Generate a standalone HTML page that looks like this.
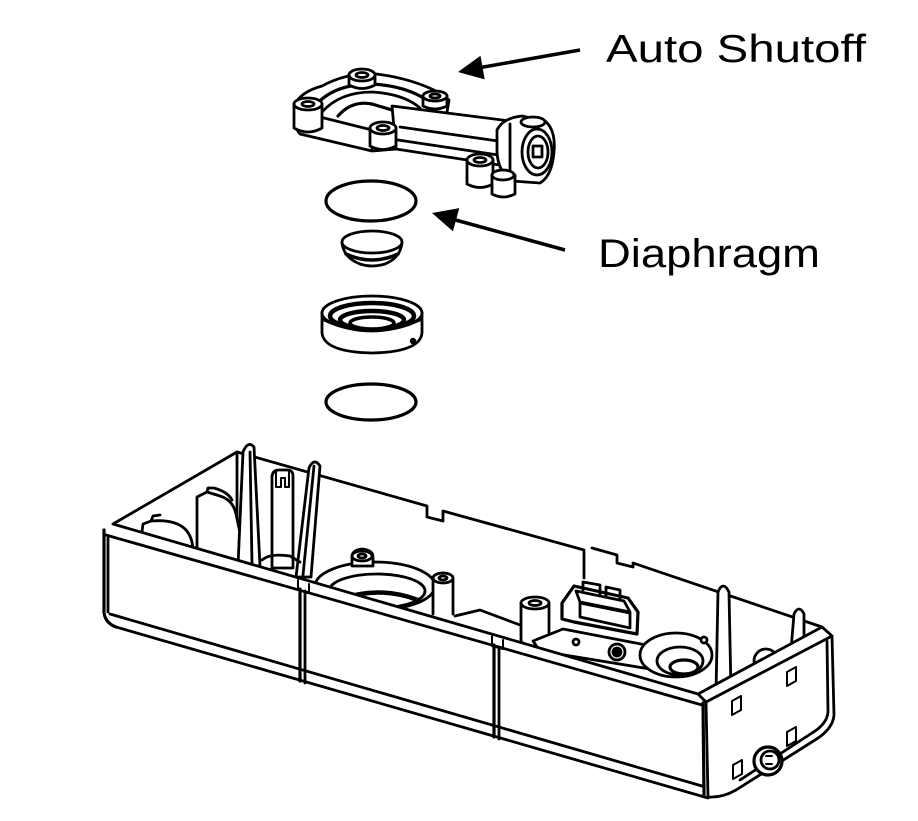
<!DOCTYPE html>
<html><head><meta charset="utf-8"><style>
html,body{margin:0;padding:0;background:#fff;}
svg{display:block;}
</style></head><body>
<svg width="918" height="821" viewBox="0 0 918 821" xmlns="http://www.w3.org/2000/svg">
<rect width="918" height="821" fill="#fff"/>

<!-- Labels -->
<text x="606" y="62" font-family="Liberation Sans, sans-serif" font-size="39" textLength="260" lengthAdjust="spacingAndGlyphs" fill="#000">Auto Shutoff</text>
<text x="598" y="267" font-family="Liberation Sans, sans-serif" font-size="40" textLength="222" lengthAdjust="spacingAndGlyphs" fill="#000">Diaphragm</text>

<!-- Arrows -->
<line x1="580" y1="50" x2="478" y2="68" stroke="#000" stroke-width="3.5"/>
<polygon points="458,72 480.5,55.8 484.7,79.4" fill="#000"/>
<line x1="565" y1="250" x2="452" y2="219" stroke="#000" stroke-width="3.5"/>
<polygon points="432,213 459.3,208.1 452.9,231.3" fill="#000"/>

<g fill="#fff" stroke="#000" stroke-width="2.8" stroke-linejoin="round" stroke-linecap="round">

<!-- ===== Auto Shutoff body ===== -->
<path d="M294,106 Q300,92 322,86 Q348,72 376,74 Q410,78 438,92 L449,100 L446,118 L402,128 L397,149 L372,151 L300,134 Q294,128 294,106 Z"/>
<path d="M300,112 L372,130 L372,150" fill="none"/>
<path d="M312,110 Q330,84 372,84 Q410,86 432,104" fill="none" stroke-width="3.2"/>
<path d="M322,112 Q340,92 372,92 Q404,94 420,108" fill="none"/>
<path d="M338,116 Q352,100 372,104 L392,110" fill="none" stroke-width="3.2"/>
<path d="M392,106 L510,121 L506,166 L396,149 Z"/>
<path d="M400,127 L505,142" fill="none"/>
<path d="M398,140 L505,156" fill="none"/>
<path d="M294,104 L294,128 Q308,136 322,128 L322,104"/>
<ellipse cx="308" cy="104" rx="14" ry="6"/>
<ellipse cx="308" cy="104" rx="6" ry="2.5"/>
<path d="M349,75 L349,85 Q362,92 375,85 L375,75"/>
<ellipse cx="362" cy="75" rx="13" ry="6"/>
<ellipse cx="362" cy="75" rx="6" ry="2.5"/>
<path d="M423,96 L423,106 Q435,112 447,106 L447,96"/>
<ellipse cx="435" cy="96" rx="12" ry="5"/>
<ellipse cx="435" cy="96" rx="5" ry="2"/>
<path d="M370,128 L370,146 Q383,153 396,146 L396,128"/>
<ellipse cx="383" cy="128" rx="13" ry="6"/>
<ellipse cx="383" cy="128" rx="6" ry="2.5"/>
<path d="M497,130 Q503,118 522,116 L545,121 Q556,130 554,152 Q552,176 540,183 L512,181 Q498,172 497,152 Z"/>
<path d="M510,124 L510,178" fill="none"/>
<ellipse cx="537" cy="152" rx="15" ry="23"/>
<ellipse cx="538" cy="152" rx="10" ry="16"/>
<rect x="533" y="146" width="9" height="11"/>
<ellipse cx="533" cy="122" rx="12" ry="5"/>
<path d="M467,160 L467,184 Q480,191 493,184 L493,160"/>
<ellipse cx="480" cy="160" rx="13" ry="6"/>
<ellipse cx="480" cy="160" rx="6" ry="2.5"/>
<path d="M492,175 L492,194 Q503,200 515,194 L515,175"/>
<ellipse cx="503" cy="175" rx="11" ry="5"/>

<!-- ===== Rings ===== -->
<ellipse cx="371" cy="201" rx="45" ry="20" fill="none" stroke-width="3.2"/>
<path d="M342,243 Q344,258 360,264 Q372,268 385,264 Q400,258 402,243"/>
<path d="M346,254 Q372,266 398,254" fill="none" stroke-width="3.5"/>
<ellipse cx="372" cy="242" rx="30" ry="11"/>
<path d="M322,313 L322,333 Q324,352 372,353 Q420,352 422,333 L422,313" />
<ellipse cx="372" cy="313" rx="50" ry="17"/>
<ellipse cx="372" cy="316" rx="42" ry="13" fill="none" stroke-width="4.5"/>
<ellipse cx="372" cy="320" rx="32" ry="9" fill="#fff" stroke-width="4.5"/>
<ellipse cx="372" cy="323" rx="22" ry="6" fill="#fff" stroke-width="3.5"/>
<path d="M324,320 Q372,342 420,320" fill="none"/>
<circle cx="413" cy="341" r="1.8" fill="#000"/>
<ellipse cx="371" cy="402" rx="45" ry="18" fill="none" stroke-width="3.2"/>

<!-- ===== Tray ===== -->
<path d="M113,524 L237,452 L427,506 L427,517 L443,521 L443,511 L584,550 L584,578" fill="none"/>
<path d="M592,548 L617,555 L617,563 L633,567 L633,563 L822,627 L832,636" fill="none"/>
<line x1="237" y1="452" x2="237" y2="560"/>

<path d="M140,547 L143,524 L151,521 Q176,519 186,530 Q193,538 193,552" />
<path d="M151,521 L153,516 L160,515" fill="none"/>
<path d="M197,550 L197,497 L207,492 L220,496 Q233,500 236,514 L247,566" />
<path d="M207,492 L208,488 L214,488 Q228,492 232,500" fill="none"/>
<path d="M238,566 L243,452 Q248,440 254,447 L260,566 Z"/>
<line x1="250" y1="452" x2="252" y2="564"/>
<path d="M272,568 L272,476 Q273,470 279,470 L287,470 Q293,470 293,476 L293,568 Z"/>
<path d="M276,471 L276,487 L281,487 L281,478 L285,478 L285,487 L289,487 L289,471" fill="none" stroke-width="2"/>
<path d="M296,577 L309,468 Q314,457 320,466 L311,577 Z"/>
<line x1="303" y1="575" x2="314" y2="466"/>
<path d="M262,560 Q270,553 290,556 L300,562" fill="none"/>

<ellipse cx="375" cy="586" rx="60" ry="24"/>
<ellipse cx="377" cy="591" rx="48" ry="17"/>
<path d="M338,600 Q378,585 418,600" fill="none" stroke-width="4.5"/>
<path d="M352,557 Q352,550 362,549 Q373,550 373,557 L373,566 L352,566 Z"/>
<ellipse cx="362" cy="556" rx="10" ry="5"/>
<ellipse cx="362" cy="556" rx="4" ry="2"/>
<path d="M433,614 L433,578 Q443,568 453,578 L453,614"/>
<ellipse cx="443" cy="578" rx="10" ry="5"/>
<ellipse cx="443" cy="578" rx="4" ry="2"/>
<path d="M455,616 L480,610 L520,625" fill="none"/>

<path d="M521,603 L521,642 Q535,650 549,642 L549,603"/>
<ellipse cx="535" cy="603" rx="14" ry="6"/>
<ellipse cx="535" cy="603" rx="6" ry="2.5"/>
<path d="M533,641 L563,629 L646,645 L650,669 L540,651 Z"/>
<circle cx="576" cy="642" r="3"/>
<path d="M562,603 L574,586 L628,598 L638,612 L637,634 L574,622 L562,619 Z" stroke-width="3.2"/>
<path d="M576,591 L624,601 L630,612 L580,602 Z"/>
<path d="M580,603 L630,613 L630,628 L580,617 Z"/>
<path d="M583,590 L583,582 L600,585 L600,594" fill="none"/>
<path d="M606,596 L606,587 L620,590 L620,599" fill="none"/>
<ellipse cx="676" cy="655" rx="36" ry="22"/>
<ellipse cx="680" cy="661" rx="23" ry="14"/>
<ellipse cx="684" cy="667" rx="14" ry="7" stroke-width="3.2"/>
<circle cx="617" cy="652" r="8"/>
<circle cx="617" cy="652" r="4" fill="#000"/>
<circle cx="704" cy="640" r="3"/>
<path d="M716,692 L718,592 Q723,580 729,592 L731,692 Z"/>
<path d="M790,662 L794,614 Q799,604 804,614 L804,662 Z"/>
<ellipse cx="766" cy="661" rx="12" ry="12"/>

<!-- front wall -->
<path d="M104,531 L113,524 L698,694 L706,702 L708,797 L115,627 Q104,622 104,612 Z" stroke="none"/>
<path d="M113,524 L698,694" fill="none"/>
<path d="M106,535 L702,705" fill="none"/>
<path d="M104,530 L104,612 Q105,623 116,627" fill="none" stroke-width="3.2"/>
<line x1="108" y1="538" x2="108" y2="612"/>
<path d="M116,627 L708,798" fill="none"/>
<path d="M110,614 L702,786" fill="none"/>
<line x1="300" y1="589" x2="300" y2="681" stroke-width="3.2"/>
<line x1="305" y1="591" x2="305" y2="683"/>
<path d="M298,580 L298,590 L309,593 L309,584" fill="none" stroke-width="2"/>
<line x1="494" y1="645" x2="494" y2="737" stroke-width="3.2"/>
<line x1="499" y1="647" x2="499" y2="739"/>
<path d="M492,636 L492,646 L503,649 L503,640" fill="none" stroke-width="2"/>

<!-- right end face -->
<path d="M698,694 L822,627 L832,636 L834,715 Q833,729 815,740 L736,790 Q722,798 708,797 L706,702 Z"/>
<path d="M706,702 L832,636" fill="none"/>
<path d="M827,641 L828,712 Q827,724 812,733 L740,780" fill="none"/>
<line x1="703" y1="703" x2="704" y2="795" stroke-width="3.2"/>
<path d="M732,701 L741,696 L741,710 L732,715 Z" stroke-width="2"/>
<path d="M787,672 L796,667 L796,681 L787,686 Z" stroke-width="2"/>
<path d="M787,732 L796,727 L796,741 L787,746 Z" stroke-width="2"/>
<path d="M733,765 L742,760 L742,774 L733,779 Z" stroke-width="2"/>
<circle cx="768" cy="761" r="14" stroke-width="3.2"/>
<circle cx="770" cy="760" r="9"/>
<path d="M766,756 L772,756 M766,764 L772,764" fill="none" stroke-width="2"/>
</g>
</svg>
</body></html>
